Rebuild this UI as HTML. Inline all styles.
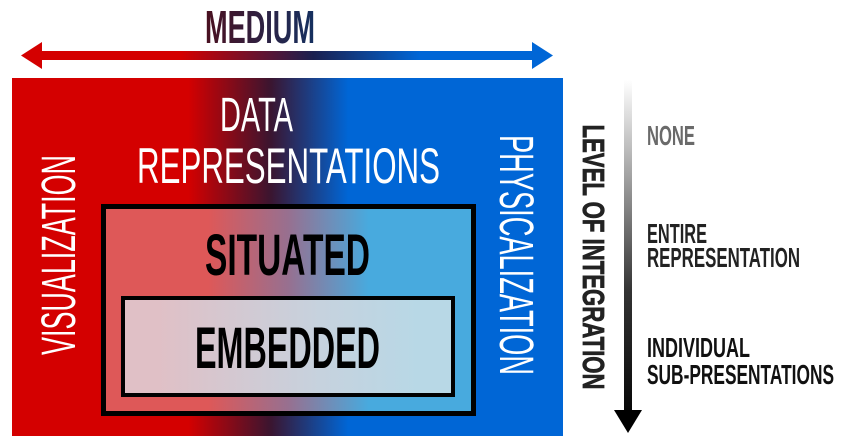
<!DOCTYPE html>
<html><head><meta charset="utf-8"><style>html,body{margin:0;padding:0;background:#fff}svg{display:block}</style></head><body>
<svg width="844" height="445" viewBox="0 0 844 445" xmlns="http://www.w3.org/2000/svg" font-family="'Liberation Sans Narrow','Liberation Sans',sans-serif">
<defs>
<linearGradient id="main" x1="12" x2="563" y1="0" y2="0" gradientUnits="userSpaceOnUse">
<stop offset="0.32" stop-color="#d40000"/><stop offset="0.47" stop-color="#3a1530"/><stop offset="0.61" stop-color="#0066d6"/></linearGradient>
<linearGradient id="arr" x1="22" x2="552" y1="0" y2="0" gradientUnits="userSpaceOnUse">
<stop offset="0.3" stop-color="#d40000"/><stop offset="0.55" stop-color="#1a2050"/><stop offset="0.75" stop-color="#0066d6"/></linearGradient>
<linearGradient id="med" x1="205" x2="315" y1="0" y2="0" gradientUnits="userSpaceOnUse">
<stop offset="0" stop-color="#4a1020"/><stop offset="1" stop-color="#153060"/></linearGradient>
<linearGradient id="sit" x1="106" x2="471" y1="0" y2="0" gradientUnits="userSpaceOnUse">
<stop offset="0.28" stop-color="#de5858"/><stop offset="0.5" stop-color="#977090"/><stop offset="0.72" stop-color="#48aade"/></linearGradient>
<linearGradient id="emb" x1="125" x2="451" y1="0" y2="0" gradientUnits="userSpaceOnUse">
<stop offset="0.1" stop-color="#e0c0c6"/><stop offset="0.6" stop-color="#c6d2de"/><stop offset="0.9" stop-color="#b8d8e6"/></linearGradient>
<linearGradient id="vg" x1="0" x2="0" y1="80" y2="432" gradientUnits="userSpaceOnUse">
<stop offset="0" stop-color="#fff"/><stop offset="0.6" stop-color="#333"/><stop offset="1" stop-color="#000"/></linearGradient>
</defs>
<text x="260" y="43" font-size="46" font-weight="bold" fill="url(#med)" text-anchor="middle" textLength="110" lengthAdjust="spacingAndGlyphs">MEDIUM</text>
<rect x="40" y="51" width="494" height="9" fill="url(#arr)"/>
<polygon points="21,55.5 42,42 42,69" fill="#d40000"/>
<polygon points="553,55.5 532,42 532,69" fill="#0066d6"/>
<rect x="12" y="78" width="551" height="358" fill="url(#main)"/>
<text x="256.5" y="131" font-size="48" fill="#fff" text-anchor="middle" textLength="73" lengthAdjust="spacingAndGlyphs">DATA</text>
<text x="288.5" y="183" font-size="50" fill="#fff" text-anchor="middle" textLength="303" lengthAdjust="spacingAndGlyphs">REPRESENTATIONS</text>
<text transform="translate(75,255) rotate(-90)" font-size="48" fill="#fff" text-anchor="middle" textLength="200" lengthAdjust="spacingAndGlyphs">VISUALIZATION</text>
<text transform="translate(500,255) rotate(90)" font-size="48" fill="#fff" text-anchor="middle" textLength="240" lengthAdjust="spacingAndGlyphs">PHYSICALIZATION</text>
<rect x="103.5" y="206.5" width="370" height="207" fill="url(#sit)" stroke="#000" stroke-width="5"/>
<text x="287.5" y="275" font-size="58" font-weight="bold" fill="#000" text-anchor="middle" textLength="165" lengthAdjust="spacingAndGlyphs">SITUATED</text>
<rect x="123" y="298" width="330" height="97" fill="url(#emb)" stroke="#000" stroke-width="4"/>
<text x="287.5" y="368" font-size="58" font-weight="bold" fill="#000" text-anchor="middle" textLength="185" lengthAdjust="spacingAndGlyphs">EMBEDDED</text>
<rect x="624" y="80" width="8" height="332" fill="url(#vg)"/>
<polygon points="614,410 642,410 628,433" fill="#000"/>
<text transform="translate(583,257) rotate(90)" font-size="31" font-weight="bold" fill="#222" text-anchor="middle" textLength="265" lengthAdjust="spacingAndGlyphs" stroke="#222" stroke-width="0.8">LEVEL OF INTEGRATION</text>
<g font-size="28" font-weight="bold">
<text x="647" y="145" fill="#6a6a6a" textLength="48" lengthAdjust="spacingAndGlyphs">NONE</text>
<text x="647" y="243" fill="#222" textLength="60" lengthAdjust="spacingAndGlyphs">ENTIRE</text>
<text x="647" y="267" fill="#222" textLength="153" lengthAdjust="spacingAndGlyphs">REPRESENTATION</text>
<text x="647" y="357" fill="#111" textLength="103" lengthAdjust="spacingAndGlyphs">INDIVIDUAL</text>
<text x="647" y="384" fill="#111" textLength="187" lengthAdjust="spacingAndGlyphs">SUB-PRESENTATIONS</text>
</g>
</svg>
</body></html>
